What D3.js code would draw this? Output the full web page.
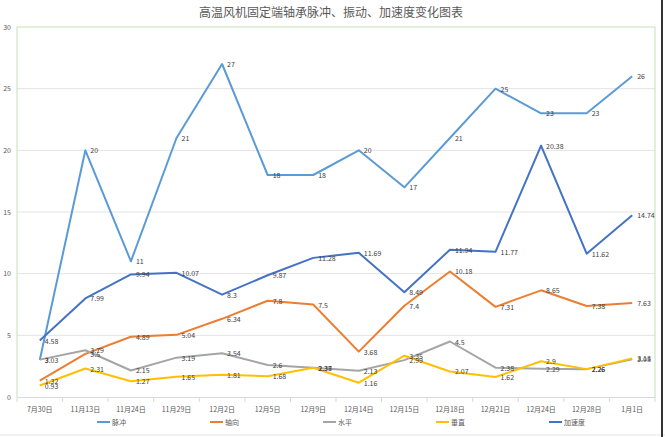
<!DOCTYPE html>
<html>
<head>
<meta charset="utf-8">
<script src="https://cdn.jsdelivr.net/npm/d3@7"></script>
<style>
  body { margin: 0; background: #fff; }
  svg { font-family: "Noto Sans CJK SC", "Microsoft YaHei", sans-serif; }
</style>
</head>
<body>
<div id="chart"></div>
<script>
// 数据
const categories = ['7月30日', '11月13日', '11月24日', '11月29日', '12月2日', '12月5日', '12月9日',
  '12月14日', '12月15日', '12月18日', '12月21日', '12月24日', '12月28日', '1月1日']
const pulse = [3, 20, 11, 21, 27, 18, 18, 20, 17, 21, 25, 23, 23, 26]
const axial = [1.32, 3.5, 4.89, 5.04, 6.34, 7.8, 7.5, 3.68, 7.4, 10.18, 7.31, 8.65, 7.38, 7.63]
const horizontal = [3.03, 3.79, 2.15, 3.19, 3.54, 2.6, 2.38, 2.13, 2.99, 4.5, 2.38, 2.29, 2.26, 3.05]
const vertical = [0.93, 2.31, 1.27, 1.65, 1.81, 1.68, 2.37, 1.16, 3.35, 2.07, 1.62, 2.9, 2.26, 3.13]
const accel = [4.58, 7.99, 9.94, 10.07, 8.3, 9.87, 11.28, 11.69, 8.49, 11.94, 11.77, 20.38, 11.62, 14.74]
const yTicks = [0, 5, 10, 15, 20, 25, 30]

const series = [
  { name: '脉冲', values: pulse, color: '#5B9BD5' },
  { name: '轴向', values: axial, color: '#ED7D31' },
  { name: '水平', values: horizontal, color: '#A5A5A5' },
  { name: '垂直', values: vertical, color: '#FFC000' },
  { name: '加速度', values: accel, color: '#4472C4' }
]

const W = 665, H = 437
const plot = { left: 17, right: 655, top: 27, bottom: 397 }

const svg = d3.select('#chart').append('svg')
  .attr('width', W)
  .attr('height', H)

const x = d3.scaleBand().domain(categories).range([plot.left, plot.right])
const y = d3.scaleLinear().domain([0, 30]).range([plot.bottom, plot.top])

// 标题
svg.append('text')
  .attr('x', 331).attr('y', 17)
  .attr('text-anchor', 'middle')
  .style('font-size', '12px')
  .style('fill', '#595959')
  .text('高温风机固定端轴承脉冲、振动、加速度变化图表')

// 网格线
svg.append('g')
  .selectAll('line')
  .data(yTicks.filter(d => d > 0 && d < 30))
  .join('line')
  .attr('x1', plot.left).attr('x2', plot.right)
  .attr('y1', d => y(d)).attr('y2', d => y(d))
  .attr('stroke', '#E3E3E3')
  .attr('stroke-width', 1)

// 绘图区边框
svg.append('path')
  .attr('d', `M${plot.left},${plot.bottom}V${plot.top}H${plot.right}V${plot.bottom}`)
  .attr('fill', 'none')
  .attr('stroke', '#C5E0B4')
  .attr('stroke-width', 1)

// y 轴
const yAxis = svg.append('g')
  .attr('transform', `translate(${plot.left},0)`)
  .call(d3.axisLeft(y).tickValues(yTicks).tickSize(0).tickPadding(6))
yAxis.select('.domain').remove()
yAxis.selectAll('text')
  .style('font-size', '7px')
  .style('fill', '#595959')
  .style('font-family', 'Noto Sans CJK SC, sans-serif')

// x 轴
const xAxis = svg.append('g')
  .attr('transform', `translate(0,${plot.bottom})`)
  .call(d3.axisBottom(x).tickSize(0).tickPadding(10))
xAxis.select('.domain').attr('stroke', '#D9D9D9')
xAxis.selectAll('text')
  .style('font-size', '7px')
  .style('fill', '#595959')
  .style('font-family', 'Noto Sans CJK SC, sans-serif')

// x 轴刻度（类别边界）
svg.append('g')
  .selectAll('line')
  .data(categories)
  .join('line')
  .attr('x1', d => x(d)).attr('x2', d => x(d))
  .attr('y1', plot.bottom).attr('y2', plot.bottom + 5)
  .attr('stroke', '#D9D9D9')
svg.append('line')
  .attr('x1', plot.right).attr('x2', plot.right)
  .attr('y1', plot.bottom).attr('y2', plot.bottom + 5)
  .attr('stroke', '#D9D9D9')

const cx = d => x(d) + x.bandwidth() / 2
const line = d3.line()
  .x((d, i) => cx(categories[i]))
  .y(d => y(d))

// 折线
svg.append('g')
  .selectAll('path')
  .data(series)
  .join('path')
  .attr('d', d => line(d.values))
  .attr('fill', 'none')
  .attr('stroke', d => d.color)
  .attr('stroke-width', 2)
  .attr('stroke-linejoin', 'round')

// 数据标签
series.forEach(s => {
  svg.append('g')
    .selectAll('text')
    .data(s.values)
    .join('text')
    .attr('x', (d, i) => cx(categories[i]) + 5)
    .attr('y', d => y(d) + 3)
    .style('font-size', '7px')
    .style('fill', '#404040')
    .text(d => d)
})

// 图例
const legend = svg.append('g')
  .selectAll('g')
  .data(series)
  .join('g')
  .attr('transform', (d, i) => `translate(${97 + i * 113},422)`)
legend.append('line')
  .attr('x1', 0).attr('x2', 13)
  .attr('stroke', d => d.color)
  .attr('stroke-width', 2)
legend.append('text')
  .attr('x', 15).attr('y', 3)
  .style('font-size', '7px')
  .style('fill', '#595959')
  .text(d => d.name)

// 底部与右侧的边线
svg.append('line')
  .attr('x1', 0).attr('x2', W)
  .attr('y1', 435).attr('y2', 435)
  .attr('stroke', '#E6E6E6')
svg.append('line')
  .attr('x1', 662).attr('x2', 662)
  .attr('y1', 0).attr('y2', H)
  .attr('stroke', '#333')
  .attr('stroke-width', 2)
</script>
</body>
</html>
